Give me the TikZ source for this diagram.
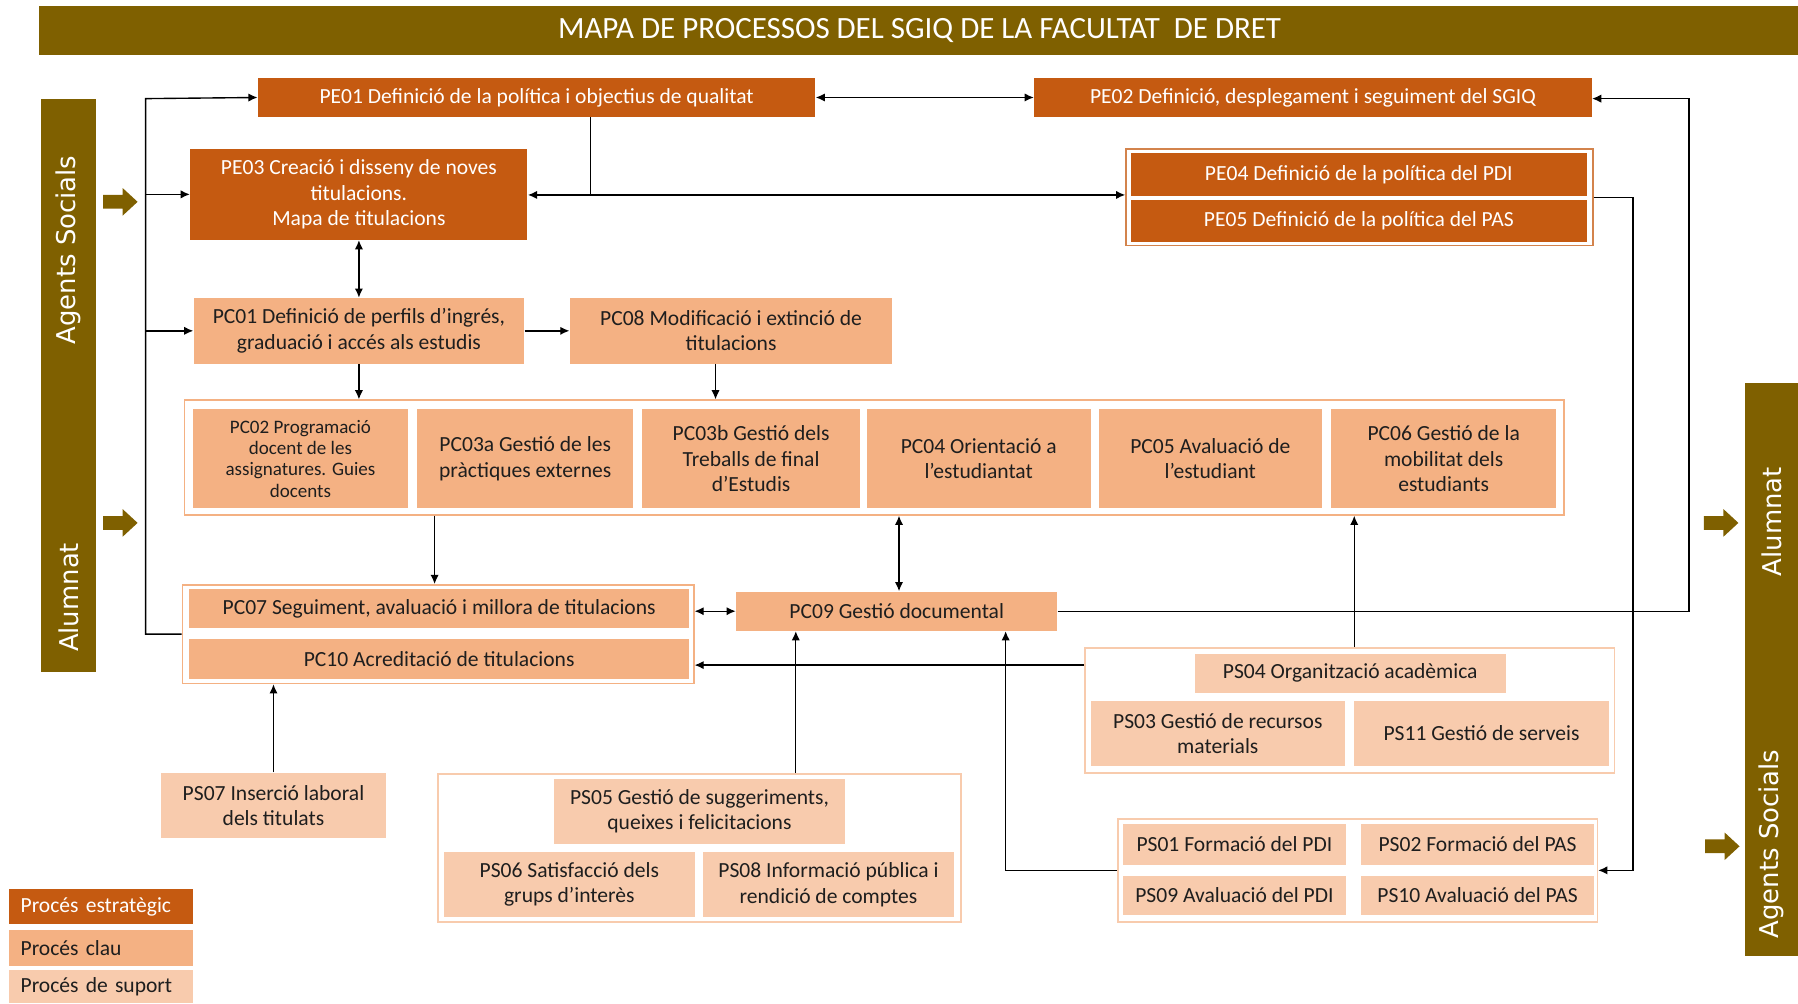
\documentclass[tikz,border=0pt]{standalone}
\usepackage{fontspec}
\setmainfont{Carlito}
\newfontfamily\barfont{DejaVu Sans}
\usetikzlibrary{arrows.meta}
\definecolor{olivebar}{HTML}{7F6000}
\definecolor{pecol}{HTML}{C55A11}
\definecolor{pccol}{HTML}{F4B183}
\definecolor{pscol}{HTML}{F8CBAD}
\definecolor{txtcol}{HTML}{1E1E1E}
\tikzset{
 box/.style={inner sep=0pt, align=center, font=\fontsize{9.4}{11}\selectfont},
 pebox/.style={box, fill=pecol, text=white},
 pcbox/.style={box, fill=pccol, text=txtcol},
 psbox/.style={box, fill=pscol, text=txtcol},
 pcframe/.style={inner sep=0pt, draw=pccol, line width=0.7pt, fill=white},
 peframe/.style={inner sep=0pt, draw=pecol!75, line width=0.7pt, fill=white},
 psframe/.style={inner sep=0pt, draw=pscol, line width=0.7pt, fill=white},
 legbox/.style={inner sep=0pt, text width=70pt, align=left, font=\fontsize{9.4}{11}\selectfont},
 conn/.style={line width=0.6pt, -{Latex[length=4pt,width=3.6pt]}},
 connb/.style={line width=0.6pt, {Latex[length=4pt,width=3.6pt]}-{Latex[length=4pt,width=3.6pt]}},
 plainline/.style={line width=0.6pt},
 bartext/.style={rotate=90, text=white, font=\barfont\fontsize{11.3}{13}\selectfont},
}
\newcommand\mybox[7]{\node[#2,minimum width={(#5-#3)*0.5pt},minimum height={(#6-#4)*0.5pt}] (#1) at ({(#3+#5)/2},{(#4+#6)/2}) {#7};}
\newcommand\blockarrow[2]{\fill[olivebar] (#1-15,#2-6) -- (#1+2,#2-6) -- (#1+2,#2-12) -- (#1+15,#2) -- (#1+2,#2+12) -- (#1+2,#2+6) -- (#1-15,#2+6) -- cycle;}
\begin{document}
\begin{tikzpicture}[x=0.5pt,y=-0.5pt]
\useasboundingbox (0,0) rectangle (1568,875);
% title
\mybox{title}{fill=olivebar, inner sep=0pt}{34}{5}{1568}{48}{}
\node[text=white, font=\fontsize{13.5}{15}\selectfont] (titletext) at (802,27) {MAPA DE PROCESSOS DEL SGIQ DE LA FACULTAT~ DE DRET};
% side bars
\mybox{lbar}{fill=olivebar, inner sep=0pt}{36}{86}{84}{586}{}
\node[bartext] (lbar1) at (60,218) {Agents Socials};
\node[bartext] (lbar2) at (60,521) {Alumnat};
\mybox{rbar}{fill=olivebar, inner sep=0pt}{1522}{334}{1568}{834}{}
\node[bartext] (rbar1) at (1545,455) {Alumnat};
\node[bartext] (rbar2) at (1545,736) {Agents Socials};
\blockarrow{105}{176}
\blockarrow{105}{456}
\blockarrow{1501}{456}
\blockarrow{1502}{738}
% strategic
\mybox{pe01}{pebox}{225}{68}{711}{102}{PE01 Definició de la política i objectius de qualitat}
\mybox{pe02}{pebox}{902}{68}{1388}{102}{PE02 Definició, desplegament i seguiment del SGIQ}
\mybox{pe03}{pebox}{166}{130}{460}{209}{PE03 Creació i disseny de noves\\titulacions.\\Mapa de titulacions}
\mybox{f45}{peframe}{982}{130}{1389}{214}{}
\mybox{pe04}{pebox}{986}{133}{1384}{171}{PE04 Definició de la política del PDI}
\mybox{pe05}{pebox}{986}{174}{1384}{211}{PE05 Definició de la política del PAS}
% key
\mybox{pc01}{pcbox}{169}{260}{457}{317}{PC01 Definició de perfils d’ingrés,\\graduació i accés als estudis}
\mybox{pc08}{pcbox}{497}{260}{778}{317}{PC08 Modificació i extinció de\\titulacions}
\mybox{fpc}{pcframe}{161}{349}{1364}{449}{}
\mybox{pc02}{pcbox, font=\fontsize{8.3}{9.3}\selectfont}{168}{357}{356}{443}{PC02 Programació\\docent de les\\assignatures. Guies\\docents}
\mybox{pc03a}{pcbox}{364}{357}{552}{443}{PC03a Gestió de les\\pràctiques externes}
\mybox{pc03b}{pcbox}{560}{357}{750}{443}{PC03b Gestió dels\\Treballs de final\\d’Estudis}
\mybox{pc04}{pcbox}{756}{357}{951}{443}{PC04 Orientació a\\l’estudiantat}
\mybox{pc05}{pcbox}{958}{357}{1153}{443}{PC05 Avaluació de\\l’estudiant}
\mybox{pc06}{pcbox}{1161}{357}{1357}{443}{PC06 Gestió de la\\mobilitat dels\\estudiants}
\mybox{f710}{pcframe}{159}{510}{605}{596}{}
\mybox{pc07}{pcbox}{165}{514}{601}{548}{PC07 Seguiment, avaluació i millora de titulacions}
\mybox{pc10}{pcbox}{165}{557}{601}{592}{PC10 Acreditació de titulacions}
\mybox{pc09}{pcbox}{642}{516}{922}{550}{PC09 Gestió documental}
% support
\mybox{fps04}{psframe}{946}{565}{1408}{674}{}
\mybox{ps04}{psbox}{1042}{570}{1313}{604}{PS04 Organització acadèmica}
\mybox{ps03}{psbox}{951}{611}{1173}{668}{PS03 Gestió de recursos\\materials}
\mybox{ps11}{psbox}{1181}{611}{1403}{668}{PS11 Gestió de serveis}
\mybox{ps07}{psbox}{140}{674}{337}{731}{PS07 Inserció laboral\\dels titulats}
\mybox{fps05}{psframe}{382}{675}{838}{804}{}
\mybox{ps05}{psbox}{483}{679}{737}{736}{PS05 Gestió de suggeriments,\\queixes i felicitacions}
\mybox{ps06}{psbox}{387}{743}{606}{800}{PS06 Satisfacció dels\\grups d’interès}
\mybox{ps08}{psbox}{613}{743}{832}{800}{PS08 Informació pública i\\rendició de comptes}
\mybox{fps01}{psframe}{975}{714}{1393}{804}{}
\mybox{ps01}{psbox}{979}{719}{1174}{754}{PS01 Formació del PDI}
\mybox{ps02}{psbox}{1187}{719}{1390}{754}{PS02 Formació del PAS}
\mybox{ps09}{psbox}{979}{764}{1174}{798}{PS09 Avaluació del PDI}
\mybox{ps10}{psbox}{1187}{764}{1390}{798}{PS10 Avaluació del PAS}
% legend
\mybox{leg1}{legbox, fill=pecol, text=white}{8}{775}{168}{806}{Procés estratègic}
\mybox{leg2}{legbox, fill=pccol, text=txtcol}{8}{811}{168}{842}{Procés clau}
\mybox{leg3}{legbox, fill=pscol, text=txtcol}{8}{846}{168}{875}{Procés de suport}
% helper coordinates
\coordinate (trunk) at (127,86);
\coordinate (j1) at (515,170);
\coordinate (xa) at (624,0);
\coordinate (xb) at (379,0);
\coordinate (xc) at (784,0);
\coordinate (xd) at (1181,0);
\coordinate (xe) at (694,0);
\coordinate (xf) at (877,0);
\coordinate (rt) at (1473,86);
\coordinate (r2) at (1424,0);
\coordinate (y580) at (0,580);
% connectors
\draw[conn] (f710.west) -| (trunk) -- (pe01.west);
\draw[conn] (trunk |- pe03.west) -- (pe03.west);
\draw[conn] (trunk |- pc01.west) -- (pc01.west);
\draw[connb] (pe01.east) -- (pe02.west);
\draw[plainline] (pe01.south -| j1) -- (j1);
\draw[connb] (pe03.east |- j1) -- (f45.west |- j1);
\draw[connb] (pe03.south) -- (pc01.north);
\draw[conn] (pc01.east) -- (pc08.west);
\draw[conn] (pc01.south) -- (pc01.south |- fpc.north);
\draw[conn] (pc08.south -| xa) -- (fpc.north -| xa);
\draw[conn] (fpc.south -| xb) -- (f710.north -| xb);
\draw[connb] (fpc.south -| xc) -- (pc09.north -| xc);
\draw[connb] (f710.east |- pc09.west) -- (pc09.west);
\draw[conn] (pc09.east) -| (rt) -- (pe02.east |- rt);
\draw[conn] (f45.east) -- (f45.east -| r2) |- (fps01.east);
\draw[conn] (fps04.north -| xd) -- (fpc.south -| xd);
\draw[conn] (fps04.west |- y580) -- (f710.east |- y580);
\draw[conn] (fps05.north -| xe) -- (pc09.south -| xe);
\draw[conn] (fps01.west) -| (pc09.south -| xf);
\draw[conn] (ps07.north) -- (f710.south -| ps07.north);
\end{tikzpicture}
\end{document}
